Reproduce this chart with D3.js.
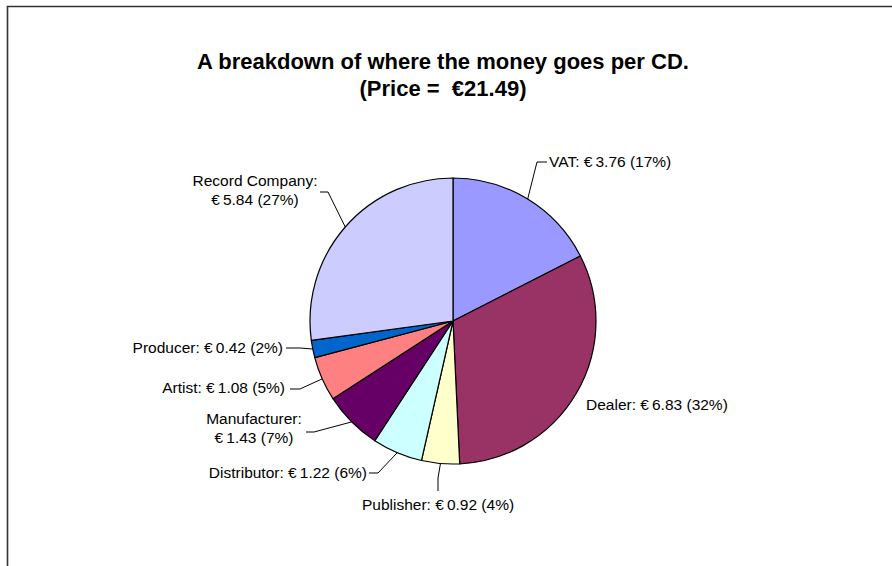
<!DOCTYPE html>
<html>
<head>
<meta charset="utf-8">
<script src="https://cdn.jsdelivr.net/npm/d3@7"></script>
<style>
  html, body { margin: 0; padding: 0; background: #fff; }
  svg { display: block; font-family: "Liberation Sans", Arial, sans-serif; }
</style>
</head>
<body>
<div id="chart"></div>
<script>
// Data
const categories = ['VAT', 'Dealer', 'Publisher', 'Distributor', 'Manufacturer', 'Artist', 'Producer', 'Record Company'];
const values = [3.76, 6.83, 0.92, 1.22, 1.43, 1.08, 0.42, 5.84];
const titleLines = ['A breakdown of where the money goes per CD.', '(Price =  \u20AC21.49)'];

// Slice colours (old Excel palette)
const colors = ['#9999FF', '#993366', '#FFFFCC', '#CCFFFF', '#660066', '#FF8080', '#0066CC', '#CCCCFF'];

// Label placement: text position, anchor, line breaks and leader start / elbow
const labelLayout = [
    { x: 549, y: 167, anchor: 'start', split: false, lead: [547, 162], elbow: [537, 162] },
    { x: 586, y: 410, anchor: 'start', split: false, lead: null },
    { x: 438, y: 510, anchor: 'middle', split: false, lead: [438, 491], elbow: [438, 478] },
    { x: 367, y: 478, anchor: 'end', split: false, lead: [369, 473], elbow: [378, 473] },
    { x: 254, y: 424, anchor: 'middle', split: true, lead: [306, 432], elbow: [314, 432] },
    { x: 285, y: 393, anchor: 'end', split: false, lead: [290, 389], elbow: [300, 389] },
    { x: 283, y: 353, anchor: 'end', split: false, lead: [286, 348], elbow: [300, 348] },
    { x: 255, y: 186, anchor: 'middle', split: true, lead: [320, 192], elbow: [328, 192] }
];

const width = 892;
const height = 566;
const cx = 453, cy = 321, radius = 143;

const svg = d3.select('#chart')
    .append('svg')
    .attr('width', width)
    .attr('height', height);

// Chart area border (top and left edges visible)
svg.append('path')
    .attr('d', `M7.5,${height + 5} L7.5,6.5 L${width + 5},6.5`)
    .attr('fill', 'none')
    .attr('stroke', '#333')
    .attr('stroke-width', 1.6);

// Title
svg.append('text')
    .attr('x', 443)
    .attr('y', 69)
    .attr('text-anchor', 'middle')
    .attr('font-size', 22)
    .attr('font-weight', 'bold')
    .selectAll('tspan')
    .data(titleLines)
    .enter()
    .append('tspan')
    .attr('x', 443)
    .attr('dy', (d, i) => i === 0 ? 0 : 27)
    .style('white-space', 'pre')
    .text(d => d);

const total = d3.sum(values);
const slices = d3.pie().sort(null).value(d => d)(values);

const arc = d3.arc().innerRadius(0).outerRadius(radius);
const edge = d3.arc().innerRadius(radius).outerRadius(radius);

const g = svg.append('g').attr('transform', `translate(${cx},${cy})`);

g.selectAll('path.slice')
    .data(slices)
    .enter()
    .append('path')
    .attr('class', 'slice')
    .attr('d', arc)
    .attr('fill', (d, i) => colors[i])
    .attr('stroke', '#000')
    .attr('stroke-width', 1.2)
    .attr('stroke-linejoin', 'round');

// Leader lines from label to slice edge
slices.forEach((d, i) => {
    const lay = labelLayout[i];
    if (!lay.lead) return;
    const [ex, ey] = edge.centroid(d);
    svg.append('polyline')
        .attr('points', [lay.lead, lay.elbow, [cx + ex, cy + ey]].map(p => p.join(',')).join(' '))
        .attr('fill', 'none')
        .attr('stroke', '#000')
        .attr('stroke-width', 1);
});

// Labels
const money = v => '\u20AC\u2009' + v.toFixed(2);
slices.forEach((d, i) => {
    const lay = labelLayout[i];
    const pct = Math.round(values[i] / total * 100) + '%';
    const lines = lay.split
        ? [categories[i] + ':', `${money(values[i])} (${pct})`]
        : [`${categories[i]}: ${money(values[i])} (${pct})`];
    const t = svg.append('text')
        .attr('x', lay.x)
        .attr('y', lay.y)
        .attr('text-anchor', lay.anchor)
        .attr('font-size', 15.5)
        .attr('fill', '#000');
    t.selectAll('tspan')
        .data(lines)
        .enter()
        .append('tspan')
        .attr('x', lay.x)
        .attr('dy', (s, j) => j === 0 ? 0 : 19)
        .text(s => s);
});
</script>
</body>
</html>
